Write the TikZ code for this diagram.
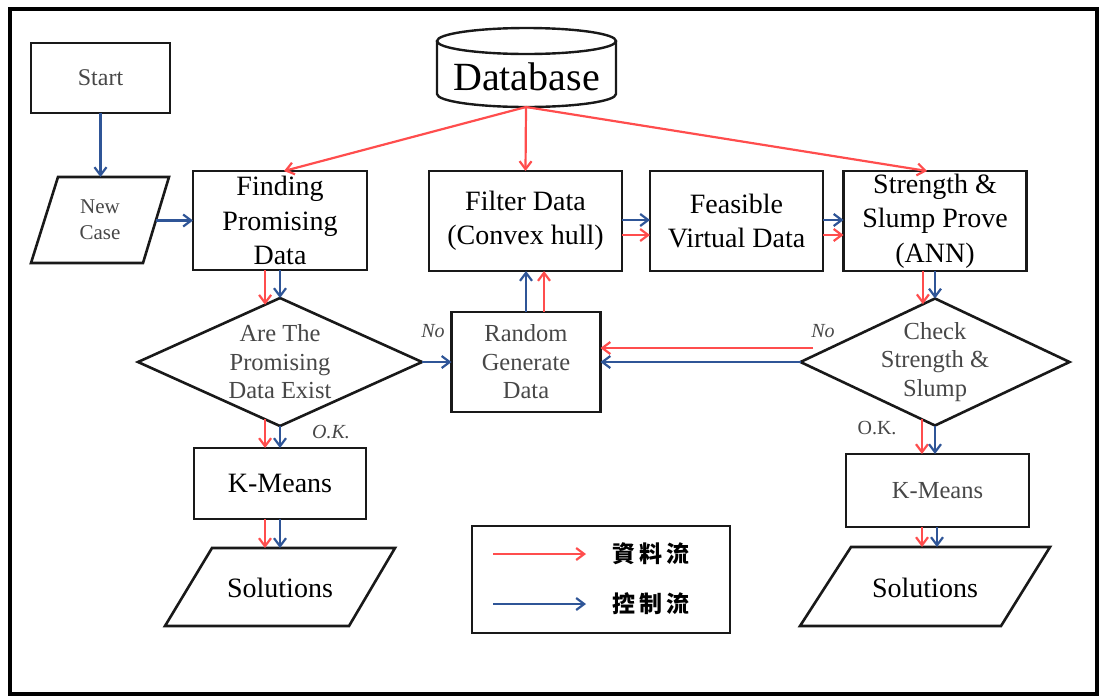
\documentclass[tikz,border=0pt]{standalone}
\usepackage{fontspec}
\setmainfont{Liberation Serif}
\newfontfamily\cjkfont{Noto Sans CJK TC}
\usetikzlibrary{arrows.meta,calc,shapes.geometric}

\definecolor{dred}{RGB}{255,77,77}
\definecolor{cblue}{RGB}{47,85,151}
\colorlet{txtgray}{black!72}

\tikzset{
  box/.style={draw=black!90, line width=2.6pt, align=center},
  dia/.style={diamond, draw=black!90, line width=2.6pt, inner sep=0pt},
  shapeline/.style={draw=black!90, line width=2.6pt, line join=miter},
  bigtext/.style={font=\fontsize{28}{34.5}\selectfont, text=black},
  midtext/.style={font=\fontsize{24.5}{28.5}\selectfont, text=txtgray},
  lbl/.style={font=\fontsize{20}{24}\selectfont\itshape, text=txtgray},
  flowtip/.style={-{Straight Barb[length=8pt,width=12pt,line width=2.2pt]}},
  dflow/.style={draw=dred, line width=2.2pt, flowtip},
  cflow/.style={draw=cblue, line width=2.2pt, flowtip},
}

\begin{document}
\begin{tikzpicture}[x=1pt,y=-1pt, every node/.style={inner sep=0pt, outer sep=0pt}]
\useasboundingbox (0,0) rectangle (1102,697);
\draw[line width=3.2pt] (10,9) rectangle (1097,694);

% database cylinder
\draw[shapeline, line width=2.4pt] (437,41) -- (437,94)
  arc[start angle=180, end angle=0, x radius=89.5, y radius=13] -- (616,41);
\draw[draw=black!90, line width=2.4pt] (526.5,41) ellipse[x radius=89.5, y radius=13];
\node[font=\fontsize{40}{44}\selectfont] (db) at (526.5,77) {Database};
\coordinate (dbbot) at (526,107);

% start and input
\node[box, minimum width=139pt, minimum height=70pt, font=\fontsize{24}{28}\selectfont, text=txtgray] (start) at (100.5,78) {Start};
\draw[shapeline] (58,177) -- (169,177) -- (143,263) -- (31,263) -- cycle;
\node[align=center, font=\fontsize{21}{26}\selectfont, text=txtgray] (nc) at (100,220) {New\\Case};
\coordinate (nctop) at (100.5,177);
\coordinate (ncright) at (156,220.5);

% process boxes
\node[box, bigtext, minimum width=174pt, minimum height=99pt] (find) at (280,220.5) {Finding\\Promising\\Data};
\node[box, bigtext, minimum width=193pt, minimum height=100pt] (filt) at (525.5,221) {Filter Data\\(Convex hull)};
\node[box, bigtext, minimum width=173pt, minimum height=100pt] (feas) at (736.5,221) {Feasible\\Virtual Data};
\node[box, bigtext, minimum width=183pt, minimum height=100pt] (stren) at (935,221) {Strength \&\\Slump Prove\\(ANN)};
\node[box, midtext, minimum width=149pt, minimum height=100pt] (rand) at (526,362) {Random\\Generate\\Data};

% decisions
\node[dia, minimum width=284pt, minimum height=128pt,
  label={[midtext, align=center]center:Are The\\Promising\\Data Exist}] (d1) at (280,362) {};
\node[dia, minimum width=269pt, minimum height=127pt,
  label={[midtext, align=center]center:Check\\Strength \&\\Slump}] (d2) at (935,362) {};

% clustering and outputs
\node[box, bigtext, minimum width=172pt, minimum height=71pt] (km1) at (280,483.5) {K-Means};
\node[box, midtext, minimum width=183pt, minimum height=73pt] (km2) at (937.5,490.5) {K-Means};
\draw[shapeline] (212,548) -- (395,548) -- (349,626) -- (165,626) -- cycle;
\node[bigtext] (sol1) at (280,588) {Solutions};
\draw[shapeline] (851,547) -- (1050,547) -- (1001,626) -- (800,626) -- cycle;
\node[bigtext] (sol2) at (925,588) {Solutions};
\coordinate (s1r) at (265,548);
\coordinate (s1b) at (280,548);
\coordinate (s2r) at (922,547);
\coordinate (s2b) at (937,547);

% branch labels
\node[lbl] (no1) at (433,331) {No};
\node[lbl] (no2) at (823,331) {No};
\node[lbl] (ok1) at (331,432) {O.K.};
\node[lbl, font=\fontsize{20}{24}\selectfont] (ok2) at (877,428) {O.K.};

% connectors
\draw[cflow] (start.south) -- (nctop);
\draw[cflow] (ncright) -- (ncright -| find.west);
\draw[dflow] (dbbot) -- ([xshift=4pt]find.north);
\draw[dflow] (dbbot) -- (filt.north);
\draw[dflow] (dbbot) -- ([xshift=-8pt]stren.north);
\draw[cflow] ([yshift=1pt]filt.east) -- ([yshift=1pt]feas.west);
\draw[dflow] ([yshift=-14pt]filt.east) -- ([yshift=-14pt]feas.west);
\draw[cflow] ([yshift=1pt]feas.east) -- ([yshift=1pt]stren.west);
\draw[dflow] ([yshift=-14pt]feas.east) -- ([yshift=-14pt]stren.west);

\coordinate (d1r) at ($(d1.north)!0.105!(d1.west)$);
\draw[dflow] (d1r |- find.south) -- (d1r);
\draw[cflow] (find.south) -- (d1.north);
\coordinate (d1rb) at ($(d1.south)!0.105!(d1.west)$);
\draw[dflow] (d1rb) -- (d1rb |- km1.north);
\draw[cflow] (d1.south) -- (km1.north);
\draw[dflow] (s1r |- km1.south) -- (s1r);
\draw[cflow] (s1b |- km1.south) -- (s1b);

\draw[cflow] (d1.east) -- (rand.west);
\draw[cflow] (rand.north) -- (rand.north |- filt.south);
\draw[dflow] ([xshift=18pt]rand.north) -- ([xshift=18.5pt]filt.south);

\draw[cflow] (d2.west) -- (d2.west -| rand.east);
\coordinate (d2no) at (813,348);
\draw[dflow] (d2no) -- (d2no -| rand.east);

\coordinate (d2r) at ($(d2.north)!0.09!(d2.west)$);
\draw[dflow] (d2r |- stren.south) -- (d2r);
\draw[cflow] (stren.south) -- (d2.north);
\coordinate (d2rb) at ($(d2.south)!0.097!(d2.west)$);
\draw[dflow] (d2rb) -- (d2rb |- km2.north);
\draw[cflow] (d2.south) -- (d2.south |- km2.north);
\draw[dflow] (s2r |- km2.south) -- (s2r);
\draw[cflow] (s2b |- km2.south) -- (s2b);

% legend
\node[box, minimum width=258pt, minimum height=107pt] (legend) at (601,579.5) {};
\coordinate (lr0) at (493,554);
\coordinate (lr1) at (586,554);
\coordinate (lb0) at (493,604);
\coordinate (lb1) at (586,604);
\draw[dflow] (lr0) -- (lr1);
\draw[cflow] (lb0) -- (lb1);
\node[font=\cjkfont\bfseries\fontsize{23}{26}\selectfont] (ldata) at (651,554) {資\hspace{4pt}料\hspace{4pt}流};
\node[font=\cjkfont\bfseries\fontsize{23}{26}\selectfont] (lctrl) at (651,604) {控\hspace{4pt}制\hspace{4pt}流};
\end{tikzpicture}
\end{document}
